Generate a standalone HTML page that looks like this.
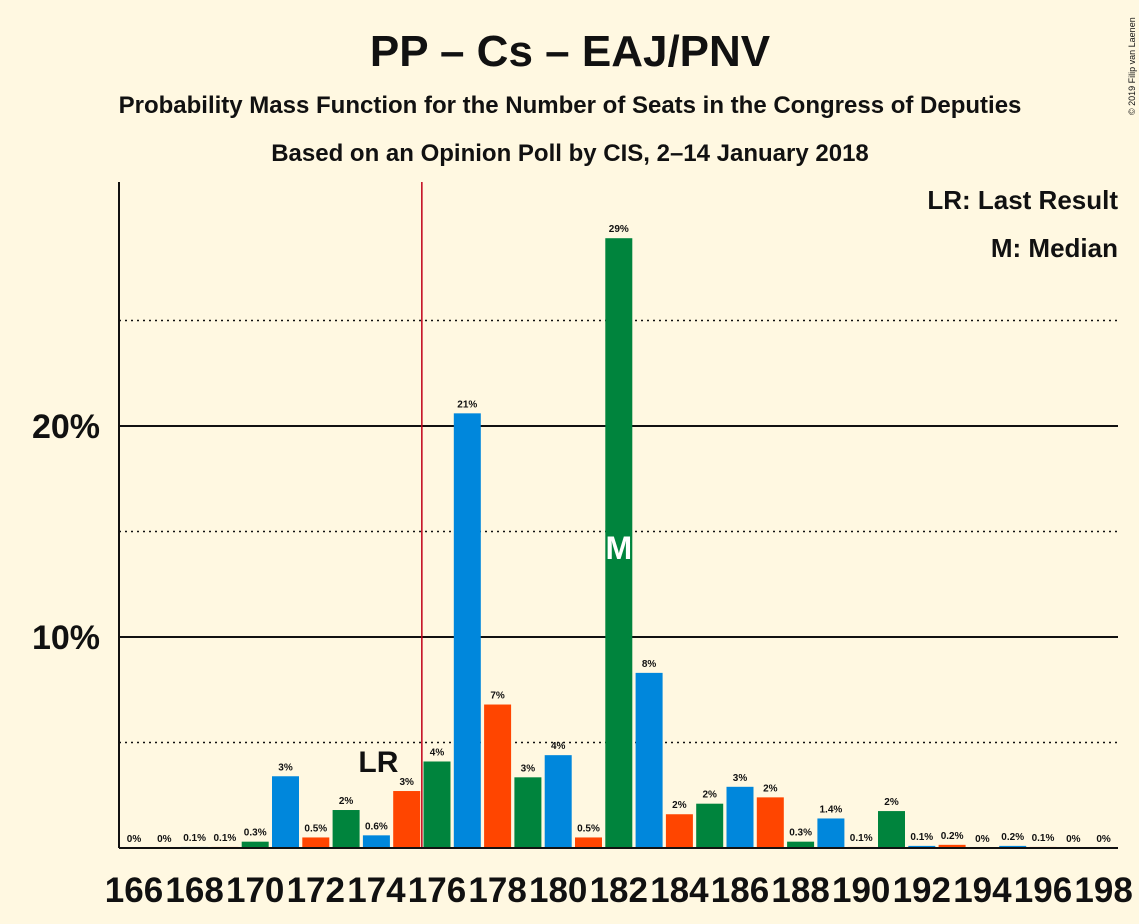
<!DOCTYPE html>
<html><head><meta charset="utf-8"><style>
body{margin:0;background:#fff8e1;}
svg{display:block;font-family:"Liberation Sans",sans-serif;}
</style></head><body>
<svg id="chart" width="1139" height="924" viewBox="0 0 1139 924">
<rect width="1139" height="924" fill="#fff8e1"/>
<text x="570" y="66" text-anchor="middle" font-size="44" font-weight="bold" fill="#111">PP – Cs – EAJ/PNV</text>
<text x="570" y="113" text-anchor="middle" font-size="24" font-weight="bold" fill="#111">Probability Mass Function for the Number of Seats in the Congress of Deputies</text>
<text x="570" y="161" text-anchor="middle" font-size="24" font-weight="bold" fill="#111">Based on an Opinion Poll by CIS, 2–14 January 2018</text>
<text x="1118" y="209" text-anchor="end" font-size="26" font-weight="bold" fill="#111">LR: Last Result</text>
<text x="1118" y="257" text-anchor="end" font-size="26" font-weight="bold" fill="#111">M: Median</text>
<text transform="translate(1135,115) rotate(-90)" font-size="9" fill="#111">© 2019 Filip van Laenen</text>
<g id="grid"></g><g id="bars"></g><g id="labels"></g><g id="xticks"></g>
<line x1="119" y1="182" x2="119" y2="848" stroke="#111" stroke-width="2"/>
<line x1="119" y1="848" x2="1118" y2="848" stroke="#111" stroke-width="2"/>
</svg>
<script>
const seats=[166,167,168,169,170,171,172,173,174,175,176,177,178,179,180,181,182,183,184,185,186,187,188,189,190,191,192,193,194,195,196,197,198];
const probs=[0,0,0.05,0.05,0.3,3.4,0.5,1.8,0.6,2.7,4.1,20.6,6.8,3.35,4.4,0.5,28.9,8.3,1.6,2.1,2.9,2.4,0.3,1.4,0.05,1.75,0.1,0.15,0,0.1,0.05,0,0];
const valueLabels=["0%","0%","0.1%","0.1%","0.3%","3%","0.5%","2%","0.6%","3%","4%","21%","7%","3%","4%","0.5%","29%","8%","2%","2%","3%","2%","0.3%","1.4%","0.1%","2%","0.1%","0.2%","0%","0.2%","0.1%","0%","0%"];
const yTicks=[5,10,15,20,25];
const lastResult=175, median=182;
const NS="http://www.w3.org/2000/svg";
const y=v=>848-v*21.1;
const x=s=>134+(s-166)*30.3;
const colors=["#ff4500","#00843d","#0087dc"];
function mk(tag,attrs,parent){const e=document.createElementNS(NS,tag);for(const k in attrs)e.setAttribute(k,attrs[k]);parent.appendChild(e);return e;}
const grid=document.getElementById('grid'),bars=document.getElementById('bars'),labels=document.getElementById('labels'),xt=document.getElementById('xticks');
yTicks.forEach(t=>{
  const major=t%10===0;
  const l=mk('line',{x1:119,x2:1118,y1:y(t),y2:y(t),stroke:'#111','stroke-width':major?2:1.5},grid);
  if(!major)l.setAttribute('stroke-dasharray','2,4');
  
  
  if(major){const tx=mk('text',{x:100,y:y(t)+12,'text-anchor':'end','font-size':34,'font-weight':'bold',fill:'#111'},grid);tx.textContent=t+'%';
  
  }
});
seats.forEach((s,i)=>{
  const v=probs[i];
  const r=mk('rect',{x:x(s)-13.5,y:y(v),width:27,height:848-y(v),fill:colors[(s-166)%3]},bars);
  
  
  const t=mk('text',{x:x(s),y:y(v)-6,'text-anchor':'middle','font-size':10,'font-weight':'bold',fill:'#111'},labels);
  t.textContent=valueLabels[i];
  
  
  if(s%2===0){const k=mk('text',{x:x(s),y:902,'text-anchor':'middle','font-size':35,'font-weight':'bold',fill:'#111'},xt);k.textContent=s;
  
  }
});
const rl=mk('line',{x1:(x(lastResult)+x(lastResult+1))/2,x2:(x(lastResult)+x(lastResult+1))/2,y1:182,y2:848,stroke:'#c00018','stroke-width':1.5},labels);


const lr=mk('text',{x:x(lastResult-1)+2,y:y(probs[lastResult-166])-18,'text-anchor':'middle','font-size':30,'font-weight':'bold',fill:'#111'},labels);
lr.setAttribute('y',772);
lr.textContent='LR';


const m=mk('text',{x:x(median),y:559,'text-anchor':'middle','font-size':32,'font-weight':'bold',fill:'#fff'},labels);
m.textContent='M';


</script>
</body></html>
